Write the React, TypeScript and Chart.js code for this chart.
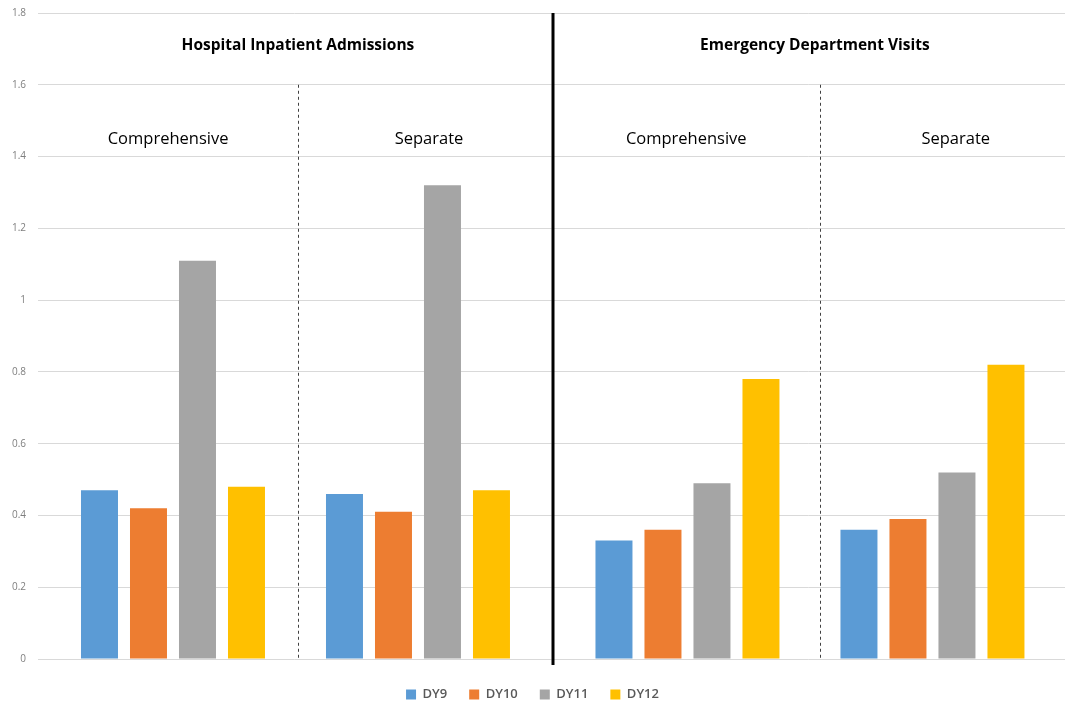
import React, { useEffect, useRef } from "react";
import { Chart, registerables } from "chart.js";

Chart.register(...registerables);

const seriesNames = ["DY9", "DY10", "DY11", "DY12"];
const seriesColors = ["#5B9BD5", "#ED7D31", "#A5A5A5", "#FFC000"];
const groupPositions = [0, 1, 2.1, 3.1];
const dy9 = [0.47, 0.46, 0.33, 0.36];
const dy10 = [0.42, 0.41, 0.36, 0.39];
const dy11 = [1.11, 1.32, 0.49, 0.52];
const dy12 = [0.48, 0.47, 0.78, 0.82];
const subLabels = ["Comprehensive", "Separate", "Comprehensive", "Separate"];
const subLabelPositions = [-0.02, 1.045, 2.095, 3.195];
const panelTitles = ["Hospital Inpatient Admissions", "Emergency Department Visits"];
const panelTitlePositions = [0.51, 2.62];
const dashedDividers = [0.51, 2.64];
const solidDivider = 1.551;

const annotationPlugin = {
  id: "annotations",
  afterDatasetsDraw(chart: any) {
    const { ctx, scales, chartArea } = chart;
    const xs = scales.x;
    const ys = scales.y;
    ctx.save();
    ctx.strokeStyle = "#404040";
    ctx.lineWidth = 1;
    ctx.setLineDash([3, 3]);
    dashedDividers.forEach((v) => {
      const px = Math.round(xs.getPixelForValue(v)) + 0.5;
      ctx.beginPath();
      ctx.moveTo(px, ys.getPixelForValue(1.6));
      ctx.lineTo(px, ys.getPixelForValue(0));
      ctx.stroke();
    });
    ctx.setLineDash([]);
    const sx = Math.round(xs.getPixelForValue(solidDivider));
    ctx.strokeStyle = "#000000";
    ctx.lineWidth = 3;
    ctx.beginPath();
    ctx.moveTo(sx, chartArea.top);
    ctx.lineTo(sx, chartArea.bottom + 6);
    ctx.stroke();
    ctx.fillStyle = "#000000";
    ctx.textAlign = "center";
    ctx.textBaseline = "middle";
    ctx.font = "bold 15.5px 'Open Sans'";
    panelTitles.forEach((t, i) => {
      ctx.fillText(t, xs.getPixelForValue(panelTitlePositions[i]), ys.getPixelForValue(1.708));
    });
    ctx.font = "16.5px 'Open Sans'";
    subLabels.forEach((t, i) => {
      ctx.fillText(t, xs.getPixelForValue(subLabelPositions[i]), ys.getPixelForValue(1.447));
    });
    ctx.restore();
  },
};

export default function App() {
  const canvasRef = useRef<HTMLCanvasElement>(null);
  useEffect(() => {
    document.body.style.margin = "0";
    const values = [dy9, dy10, dy11, dy12];
    const chart = new Chart(canvasRef.current as HTMLCanvasElement, {
      type: "bar",
      data: {
        datasets: seriesNames.map((name, s) => ({
          label: name,
          data: groupPositions.map((x, g) => ({ x, y: values[s][g] })),
          backgroundColor: seriesColors[s],
          borderWidth: 0,
          categoryPercentage: 0.8,
          barPercentage: 0.755,
        })),
      },
      options: {
        animation: false,
        responsive: false,
        maintainAspectRatio: false,
        layout: { padding: { top: 13, right: 3, left: 0, bottom: -5 } },
        plugins: {
          legend: {
            position: "bottom",
            labels: {
              boxWidth: 10,
              boxHeight: 10,
              padding: 22,
              color: "#595959",
              font: { family: "'Open Sans'", size: 13, weight: "600" },
            },
          },
          tooltip: { enabled: false },
        },
        scales: {
          x: {
            type: "linear",
            min: -0.551,
            max: 3.641,
            offset: false,
            ticks: { display: false },
            grid: { display: false },
            border: { display: false },
            afterBuildTicks: (scale: any) => {
              scale.ticks = groupPositions.map((v) => ({ value: v }));
            },
            afterFit: (scale: any) => {
              scale.height = 7;
            },
          },
          y: {
            min: 0,
            max: 1.8,
            ticks: {
              stepSize: 0.2,
              color: "#7f7f7f",
              padding: 12,
              font: { family: "'Open Sans'", size: 10 },
              callback: (v: any) => String(Number(Number(v).toFixed(1))),
            },
            grid: { color: "#d9d9d9", drawTicks: false },
            border: { display: false },
            afterFit: (scale: any) => {
              scale.width = 38;
              scale.paddingTop = 0;
            },
          },
        },
      },
      plugins: [annotationPlugin],
    });
    return () => chart.destroy();
  }, []);
  return (
    <div style={{ width: 1068, height: 706, background: "#ffffff" }}>
      <canvas ref={canvasRef} width={1068} height={706} />
    </div>
  );
}
